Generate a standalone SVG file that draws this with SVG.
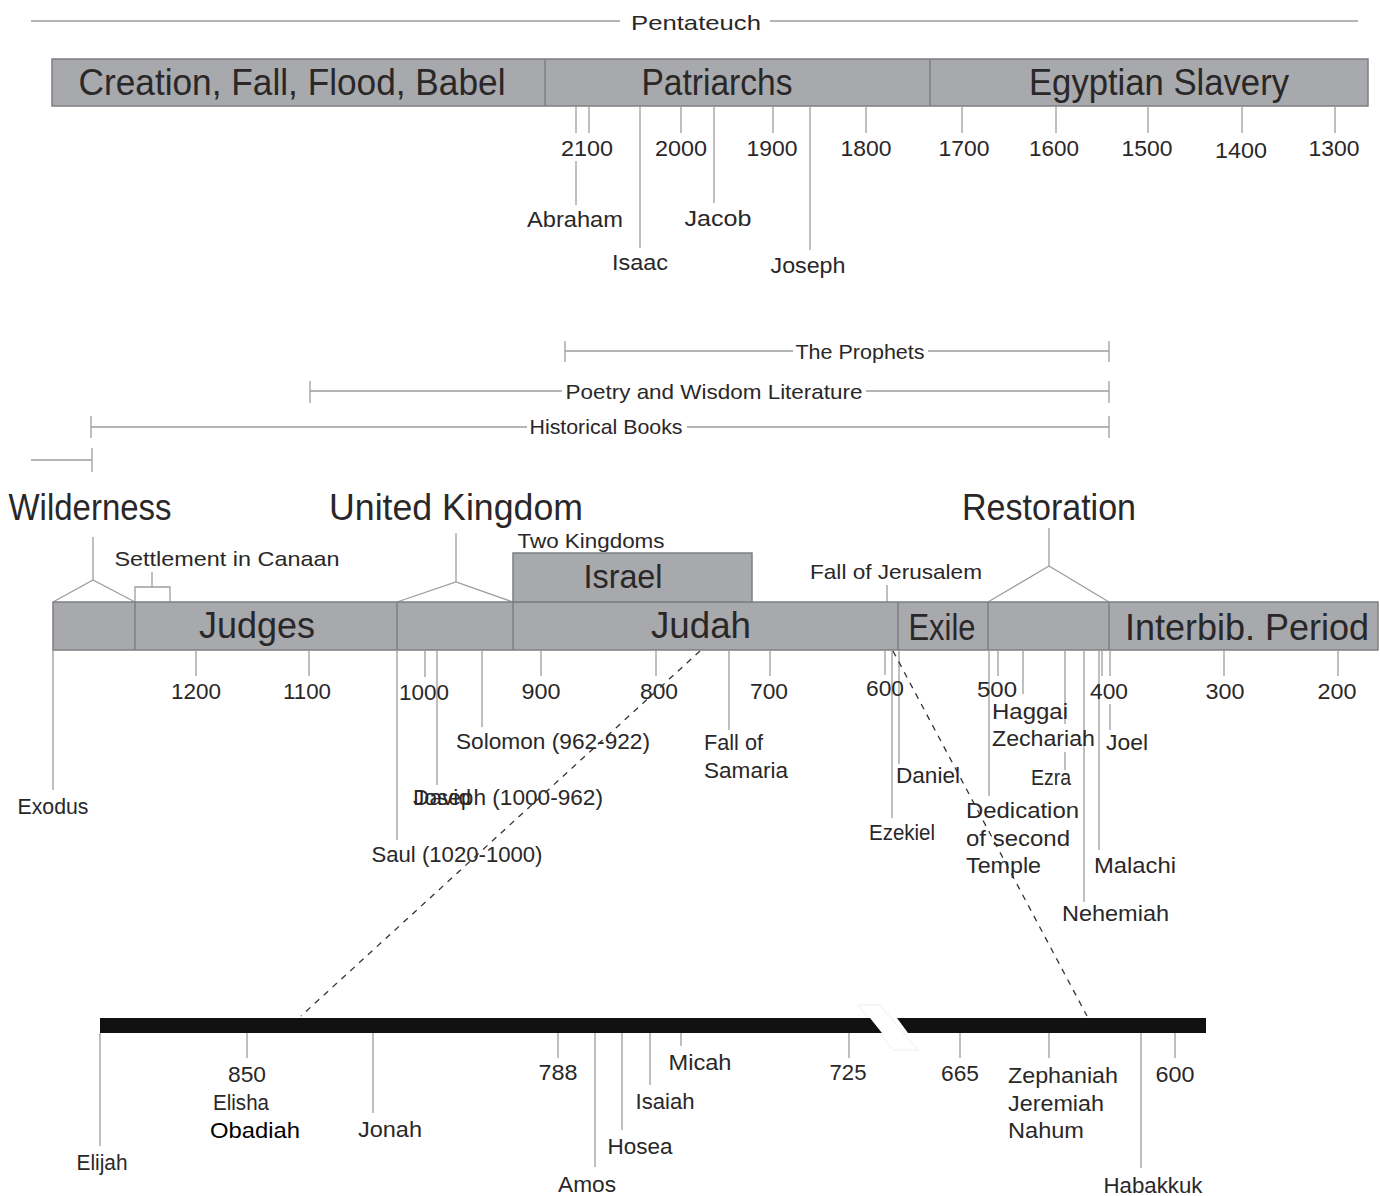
<svg xmlns="http://www.w3.org/2000/svg" width="1380" height="1196" viewBox="0 0 1380 1196">
<style>
.bar{fill:#a7a9ac;stroke:#7d7f82;stroke-width:1.5}
.ln{stroke:#9d9d9d;stroke-width:1.3;fill:none}
.dl{stroke:#333;stroke-width:1.3;fill:none;stroke-dasharray:6 6}
.t{font-family:"Liberation Sans",Arial,sans-serif;fill:#2a2728}
.m{text-anchor:middle}
.s{font-size:22px}
.r{font-size:21px}
.h{font-size:36px}
.bk{fill:#111}
</style>
<rect width="1380" height="1196" fill="#fff"/>

<g id="pentateuch">
<line class="ln" x1="31" y1="21" x2="620" y2="21"/>
<line class="ln" x1="770" y1="21" x2="1358" y2="21"/>
<text class="t m r" x="696" y="30" textLength="130" lengthAdjust="spacingAndGlyphs">Pentateuch</text>
</g>

<g id="top-bar">
<rect class="bar" x="52" y="59" width="1316" height="47"/>
<line class="bar" x1="545" y1="59" x2="545" y2="106"/>
<line class="bar" x1="930" y1="59" x2="930" y2="106"/>
<text class="t m" font-size="37" x="292" y="95" textLength="427" lengthAdjust="spacingAndGlyphs">Creation, Fall, Flood, Babel</text>
<text class="t m" font-size="37" x="717" y="95" textLength="151" lengthAdjust="spacingAndGlyphs">Patriarchs</text>
<text class="t m" font-size="37" x="1159" y="95" textLength="260" lengthAdjust="spacingAndGlyphs">Egyptian Slavery</text>
</g>

<g id="top-ticks">
<path class="ln" d="M576 106V133M576 161V205M589 106V133M640 106V248M681 106V133M714 106V203M773 106V133M810 106V250M866 106V133M962 106V133M1056 106V133M1148 106V133M1242 106V133M1335 106V133"/>
<text class="t m s" x="587" y="156" textLength="52" lengthAdjust="spacingAndGlyphs">2100</text>
<text class="t m s" x="681" y="156" textLength="52" lengthAdjust="spacingAndGlyphs">2000</text>
<text class="t m s" x="772" y="156" textLength="51" lengthAdjust="spacingAndGlyphs">1900</text>
<text class="t m s" x="866" y="156" textLength="51" lengthAdjust="spacingAndGlyphs">1800</text>
<text class="t m s" x="964" y="156" textLength="51" lengthAdjust="spacingAndGlyphs">1700</text>
<text class="t m s" x="1054" y="156" textLength="50" lengthAdjust="spacingAndGlyphs">1600</text>
<text class="t m s" x="1147" y="156" textLength="51" lengthAdjust="spacingAndGlyphs">1500</text>
<text class="t m s" x="1241" y="158" textLength="52" lengthAdjust="spacingAndGlyphs">1400</text>
<text class="t m s" x="1334" y="156" textLength="51" lengthAdjust="spacingAndGlyphs">1300</text>
</g>

<g id="patriarch-names">
<text class="t m s" x="575" y="227" textLength="96" lengthAdjust="spacingAndGlyphs">Abraham</text>
<text class="t m s" x="640" y="270" textLength="56" lengthAdjust="spacingAndGlyphs">Isaac</text>
<text class="t m s" x="718" y="226" textLength="67" lengthAdjust="spacingAndGlyphs">Jacob</text>
<text class="t m s" x="808" y="273" textLength="75" lengthAdjust="spacingAndGlyphs">Joseph</text>
</g>

<g id="ranges">
<path class="ln" d="M565 351H793M928 351H1109M565 341V362M1109 341V362"/>
<text class="t m r" x="860" y="359" textLength="129" lengthAdjust="spacingAndGlyphs">The Prophets</text>
<path class="ln" d="M310 391H562M866 391H1109M310 381V403M1109 381V403"/>
<text class="t m r" x="714" y="399" textLength="297" lengthAdjust="spacingAndGlyphs">Poetry and Wisdom Literature</text>
<path class="ln" d="M91 427H527M687 427H1109M91 416V438M1109 416V438"/>
<text class="t m r" x="606" y="434" textLength="153" lengthAdjust="spacingAndGlyphs">Historical Books</text>
<path class="ln" d="M31 460H92M92 448V472"/>
</g>

<g id="headings">
<text class="t m h" x="90" y="520" textLength="163" lengthAdjust="spacingAndGlyphs">Wilderness</text>
<text class="t m h" x="456" y="520" textLength="254" lengthAdjust="spacingAndGlyphs">United Kingdom</text>
<text class="t m h" x="1049" y="520" textLength="174" lengthAdjust="spacingAndGlyphs">Restoration</text>
<text class="t m r" x="227" y="566" textLength="225" lengthAdjust="spacingAndGlyphs">Settlement in Canaan</text>
<text class="t m r" x="591" y="548" textLength="147" lengthAdjust="spacingAndGlyphs">Two Kingdoms</text>
<text class="t m r" x="896" y="579" textLength="172" lengthAdjust="spacingAndGlyphs">Fall of Jerusalem</text>
</g>

<g id="brackets">
<path class="ln" d="M93 537V580M53 602L93 580L135 602"/>
<path class="ln" d="M135 602V587H170V602M152 572V587"/>
<path class="ln" d="M456 533V582M397 602L456 582L513 602"/>
<path class="ln" d="M1049 528V566M988 602L1049 566L1109 602"/>
<path class="ln" d="M887 585V602"/>
</g>

<g id="middle-bar">
<rect class="bar" x="53" y="602" width="1325" height="48"/>
<rect class="bar" x="513" y="553" width="239" height="49"/>
<path class="bar" d="M135 602V650M397 602V650M513 602V650M898 602V650M988 602V650M1109 602V650"/>
<text class="t m" font-size="34" x="623" y="588" textLength="79" lengthAdjust="spacingAndGlyphs">Israel</text>
<text class="t m h" x="257" y="638" textLength="116" lengthAdjust="spacingAndGlyphs">Judges</text>
<text class="t m h" x="701" y="638" textLength="100" lengthAdjust="spacingAndGlyphs">Judah</text>
<text class="t m h" x="942" y="640" textLength="67" lengthAdjust="spacingAndGlyphs">Exile</text>
<text class="t m h" x="1247" y="640" textLength="244" lengthAdjust="spacingAndGlyphs">Interbib. Period</text>
</g>

<g id="middle-ticks">
<path class="ln" d="M53 650V790M196 650V676M309 650V676M397 650V840M425 650V677M437 650V785M482 650V727M541 650V676M656 650V676M729 650V730M770 650V676M885 650V675M892 650V818M899 650V764M989 650V796M998 650V676M1023 650V694M1065 650V724M1065 752V770M1084 650V902M1099 650V850M1102 650V676M1110 650V676M1110 704V730M1224 650V676M1338 650V676"/>
<text class="t m s" x="196" y="699" textLength="50" lengthAdjust="spacingAndGlyphs">1200</text>
<text class="t m s" x="307" y="699" textLength="48" lengthAdjust="spacingAndGlyphs">1100</text>
<text class="t m s" x="424" y="700" textLength="50" lengthAdjust="spacingAndGlyphs">1000</text>
<text class="t m s" x="541" y="699" textLength="39" lengthAdjust="spacingAndGlyphs">900</text>
<text class="t m s" x="659" y="699" textLength="38" lengthAdjust="spacingAndGlyphs">800</text>
<text class="t m s" x="769" y="699" textLength="38" lengthAdjust="spacingAndGlyphs">700</text>
<text class="t m s" x="885" y="696" textLength="38" lengthAdjust="spacingAndGlyphs">600</text>
<text class="t m s" x="997" y="697" textLength="40" lengthAdjust="spacingAndGlyphs">500</text>
<text class="t m s" x="1109" y="699" textLength="38" lengthAdjust="spacingAndGlyphs">400</text>
<text class="t m s" x="1225" y="699" textLength="39" lengthAdjust="spacingAndGlyphs">300</text>
<text class="t m s" x="1337" y="699" textLength="39" lengthAdjust="spacingAndGlyphs">200</text>
</g>

<g id="middle-events">
<text class="t m s" x="53" y="814" textLength="71" lengthAdjust="spacingAndGlyphs">Exodus</text>
<text class="t m s" x="457" y="862" textLength="171" lengthAdjust="spacingAndGlyphs">Saul (1020-1000)</text>
<text class="t s" x="413" y="805" textLength="190" lengthAdjust="spacingAndGlyphs">Joseph (1000-962)</text>
<text class="t s" x="413" y="805" textLength="58" lengthAdjust="spacingAndGlyphs">David</text>
<text class="t m s" x="553" y="749" textLength="194" lengthAdjust="spacingAndGlyphs">Solomon (962-922)</text>
<text class="t s" x="704" y="750" textLength="59" lengthAdjust="spacingAndGlyphs">Fall of</text>
<text class="t s" x="704" y="778" textLength="84" lengthAdjust="spacingAndGlyphs">Samaria</text>
<text class="t s" x="896" y="783" textLength="64" lengthAdjust="spacingAndGlyphs">Daniel</text>
<text class="t s" x="869" y="840" textLength="66" lengthAdjust="spacingAndGlyphs">Ezekiel</text>
<text class="t s" x="992" y="719" textLength="76" lengthAdjust="spacingAndGlyphs">Haggai</text>
<text class="t s" x="992" y="746" textLength="103" lengthAdjust="spacingAndGlyphs">Zechariah</text>
<text class="t s" x="1106" y="750" textLength="42" lengthAdjust="spacingAndGlyphs">Joel</text>
<text class="t s" x="1031" y="785" textLength="40" lengthAdjust="spacingAndGlyphs">Ezra</text>
<text class="t s" x="966" y="818" textLength="113" lengthAdjust="spacingAndGlyphs">Dedication</text>
<text class="t s" x="966" y="846" textLength="104" lengthAdjust="spacingAndGlyphs">of second</text>
<text class="t s" x="966" y="873" textLength="75" lengthAdjust="spacingAndGlyphs">Temple</text>
<text class="t s" x="1094" y="873" textLength="82" lengthAdjust="spacingAndGlyphs">Malachi</text>
<text class="t s" x="1062" y="921" textLength="107" lengthAdjust="spacingAndGlyphs">Nehemiah</text>
</g>

<g id="connectors">
<line class="dl" x1="700" y1="651" x2="301" y2="1016"/>
<line class="dl" x1="893" y1="651" x2="1087" y2="1016"/>
</g>

<g id="bottom-bar">
<polygon points="858,1005 880,1005 918,1050 893,1050" fill="#fff" stroke="#eeeeee" stroke-width="1"/>
<polygon class="bk" points="100,1018 870,1018 882,1033 100,1033"/>
<polygon class="bk" points="897,1018 1206,1018 1206,1033 908,1033"/>
</g>

<g id="bottom-ticks">
<path class="ln" d="M100 1033V1146M247 1033V1058M373 1033V1113M558 1033V1058M595 1033V1167M622 1033V1130M650 1033V1085M681 1033V1046M849 1033V1058M960 1033V1058M1049 1033V1058M1141 1033V1168M1175 1033V1058"/>
<text class="t m s" x="247" y="1082" textLength="38" lengthAdjust="spacingAndGlyphs">850</text>
<text class="t m s" x="241" y="1110" textLength="56" lengthAdjust="spacingAndGlyphs">Elisha</text>
<text class="m" font-family="Liberation Sans, Arial, sans-serif" font-size="22" fill="#000" x="255" y="1138" textLength="90" lengthAdjust="spacingAndGlyphs">Obadiah</text>
<text class="t m s" x="102" y="1170" textLength="51" lengthAdjust="spacingAndGlyphs">Elijah</text>
<text class="t m s" x="390" y="1137" textLength="64" lengthAdjust="spacingAndGlyphs">Jonah</text>
<text class="t m s" x="558" y="1080" textLength="39" lengthAdjust="spacingAndGlyphs">788</text>
<text class="t m s" x="587" y="1192" textLength="58" lengthAdjust="spacingAndGlyphs">Amos</text>
<text class="t m s" x="640" y="1154" textLength="65" lengthAdjust="spacingAndGlyphs">Hosea</text>
<text class="t m s" x="665" y="1109" textLength="59" lengthAdjust="spacingAndGlyphs">Isaiah</text>
<text class="t m s" x="700" y="1070" textLength="63" lengthAdjust="spacingAndGlyphs">Micah</text>
<text class="t m s" x="848" y="1080" textLength="37" lengthAdjust="spacingAndGlyphs">725</text>
<text class="t m s" x="960" y="1081" textLength="38" lengthAdjust="spacingAndGlyphs">665</text>
<text class="t s" x="1008" y="1083" textLength="110" lengthAdjust="spacingAndGlyphs">Zephaniah</text>
<text class="t s" x="1008" y="1111" textLength="96" lengthAdjust="spacingAndGlyphs">Jeremiah</text>
<text class="t s" x="1008" y="1138" textLength="76" lengthAdjust="spacingAndGlyphs">Nahum</text>
<text class="t m s" x="1175" y="1082" textLength="39" lengthAdjust="spacingAndGlyphs">600</text>
<text class="t m s" x="1153" y="1193" textLength="99" lengthAdjust="spacingAndGlyphs">Habakkuk</text>
</g>
</svg>
